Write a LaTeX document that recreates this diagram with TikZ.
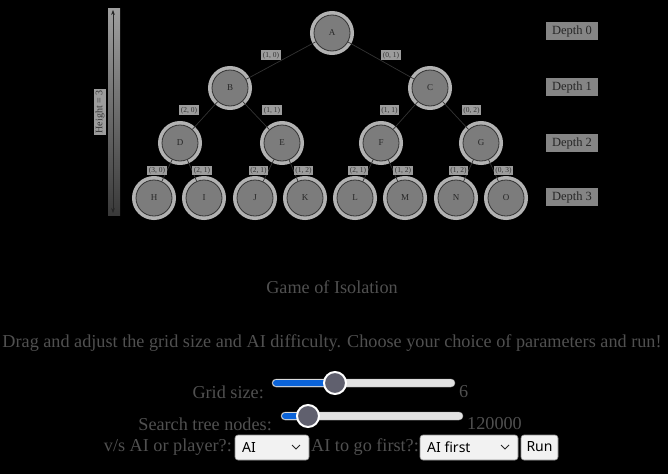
\documentclass[tikz,border=0pt]{standalone}
\usepackage{fontspec}
\setmainfont{Liberation Serif}
\newfontfamily\uifont{Noto Sans}
\usetikzlibrary{positioning, arrows.meta, calc}
\definecolor{Ink}{HTML}{505050}
\definecolor{NodeGrey}{HTML}{7c7c7c}
\definecolor{HaloGrey}{HTML}{b2b2b2}
\definecolor{TagGrey}{HTML}{9c9c9c}
\definecolor{TrackGrey}{HTML}{e2e2e2}
\definecolor{SliderBlue}{HTML}{0b63d8}
\definecolor{ThumbGrey}{HTML}{60606e}
\definecolor{BoxGrey}{HTML}{f2f2f2}
\tikzset{
  treenode/.style={circle, draw=black!80, fill=NodeGrey, minimum size=36pt, inner sep=0pt,
    line width=0.8pt, font=\fontsize{9}{9}\selectfont, text=black!85,
    preaction={draw=HaloGrey, line width=8pt}},
  edgetag/.style={fill=TagGrey, inner sep=1.5pt, font=\fontsize{7.5}{7.5}\selectfont, text=black!80},
  depthtag/.style={fill=TagGrey!85!black, inner xsep=6pt, inner ysep=3pt,
    font=\fontsize{12.5}{12.5}\selectfont, text=black!85},
  branch/.style={draw=black!80, line width=0.7pt},
  uilabel/.style={text=Ink, font=\fontsize{18.2}{18.2}\selectfont, inner sep=0pt},
  selectbox/.style={draw=black!45, fill=BoxGrey, rounded corners=3pt, line width=0.6pt},
  chevron/.style={draw=black!85, line width=1pt},
}

\begin{document}
\begin{tikzpicture}[x=1pt, y=-1pt]
  \fill[black] (0,0) rectangle (668,474);
  \useasboundingbox (0,0) rectangle (668,474);

  % Height bar
  \shade[top color=gray!75, bottom color=gray!45!black] (108,8) rectangle (120,215);
  \coordinate (htop) at (113,10);
  \coordinate (hbot) at (113,213);
  \draw[{Stealth[length=5pt]}-{Stealth[length=5pt]}, black!85, line width=0.7pt] (htop) -- (hbot);
  \node[edgetag, rotate=90, font=\fontsize{10}{10}\selectfont] (height) at (100,112) {Height = 3};

  % Tree
  \node[treenode] (nA) at (332,33) {A};
  \node[treenode] (nB) at (230,88) {B};
  \node[treenode] (nC) at (430,88) {C};
  \node[treenode] (nD) at (180,143) {D};
  \node[treenode] (nE) at (282,143) {E};
  \node[treenode] (nF) at (381,143) {F};
  \node[treenode] (nG) at (481,143) {G};
  \foreach \name/\x in {H/154, I/204, J/255, K/305, L/355, M/405, N/456, O/506} {
    \node[treenode] (n\name) at (\x,198) {\name};
  }

  \draw[branch] (nA) -- node[edgetag, above left] {(1, 0)} (nB);
  \draw[branch] (nA) -- node[edgetag, above right] {(0, 1)} (nC);
  \draw[branch] (nB) -- node[edgetag, above left, xshift=-6pt] {(2, 0)} (nD);
  \draw[branch] (nB) -- node[edgetag, above right, xshift=6pt] {(1, 1)} (nE);
  \draw[branch] (nC) -- node[edgetag, above left, xshift=-6pt] {(1, 1)} (nF);
  \draw[branch] (nC) -- node[edgetag, above right, xshift=6pt] {(0, 2)} (nG);
  \draw[branch] (nD) -- node[edgetag, left] {(3, 0)} (nH);
  \draw[branch] (nD) -- node[edgetag, right] {(2, 1)} (nI);
  \draw[branch] (nE) -- node[edgetag, left] {(2, 1)} (nJ);
  \draw[branch] (nE) -- node[edgetag, right] {(1, 2)} (nK);
  \draw[branch] (nF) -- node[edgetag, left] {(2, 1)} (nL);
  \draw[branch] (nF) -- node[edgetag, right] {(1, 2)} (nM);
  \draw[branch] (nG) -- node[edgetag, left] {(1, 2)} (nN);
  \draw[branch] (nG) -- node[edgetag, right] {(0, 3)} (nO);

  % Depth labels
  \foreach \d/\y in {0/31, 1/87, 2/143, 3/197} {
    \node[depthtag] (depth\d) at (572,\y) {Depth \d};
  }

  % Texts
  \node[uilabel] (title) at (332,287) {Game of Isolation};
  \node[uilabel] (intro) at (332,343)
    {Drag and adjust the grid size and AI difficulty. Choose your choice of parameters and run!};

  % Grid size slider
  \node[uilabel, anchor=east] (gridlbl) at (264,392) {Grid size:};
  \filldraw[fill=TrackGrey, draw=black!35, rounded corners=4pt] (272,379) rectangle (455,387);
  \fill[SliderBlue, rounded corners=3pt] (273,380) rectangle (335,386);
  \filldraw[fill=ThumbGrey, draw=white, line width=2pt] (335,383) circle (11);
  \node[uilabel, anchor=west] (gridval) at (459,392) {6};

  % Search tree slider
  \node[uilabel, anchor=east] (searchlbl) at (272,424) {Search tree nodes:};
  \filldraw[fill=TrackGrey, draw=black!35, rounded corners=4pt] (281,412) rectangle (463,420);
  \fill[SliderBlue, rounded corners=3pt] (282,413) rectangle (308,419);
  \filldraw[fill=ThumbGrey, draw=white, line width=2pt] (308,416) circle (11);
  \node[uilabel, anchor=west] (searchval) at (467,424) {120000};

  % Selects and button
  \node[uilabel, anchor=east] (vslbl) at (232,447) {v/s AI or player?:};
  \draw[selectbox] (235,435) rectangle (309,460);
  \node[anchor=west, inner sep=0pt, font=\uifont\fontsize{14}{14}\selectfont] (vsval) at (242,447) {AI};
  \draw[chevron] (292,445) -- (296,449) -- (300,445);
  \node[uilabel, anchor=west] (firstlbl) at (311,447) {AI to go first?:};
  \draw[selectbox] (420,435) rectangle (518,460);
  \node[anchor=west, inner sep=0pt, font=\uifont\fontsize{14}{14}\selectfont] (firstval) at (427,447) {AI first};
  \draw[chevron] (501,445) -- (505,449) -- (509,445);
  \draw[selectbox] (521,435) rectangle (558,460);
  \node[inner sep=0pt, font=\uifont\fontsize{14}{14}\selectfont] (runbtn) at (539.5,447) {Run};
\end{tikzpicture}
\end{document}
